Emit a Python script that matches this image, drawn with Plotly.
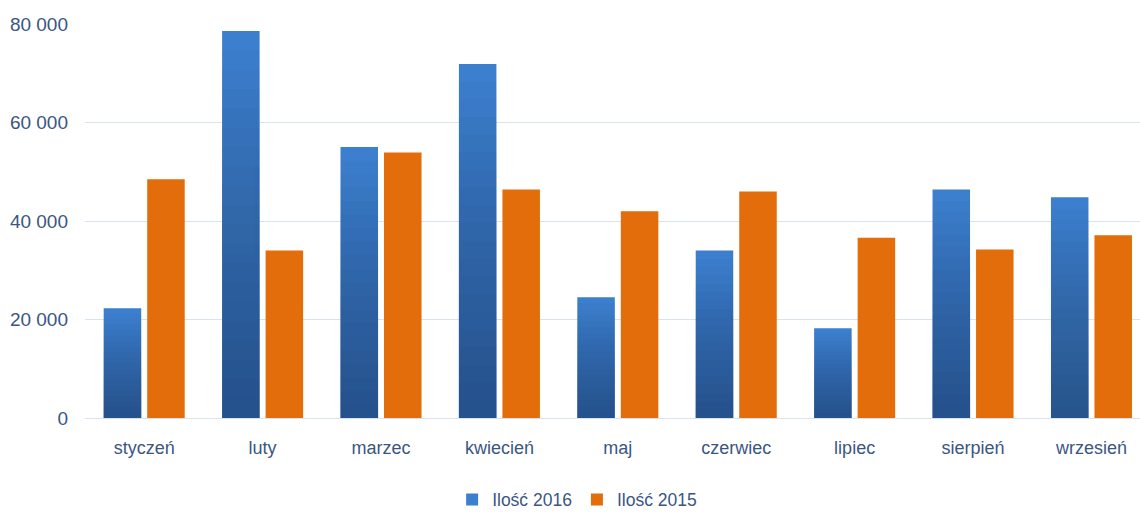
import plotly.graph_objects as go

months = ["styczeń", "luty", "marzec", "kwiecień", "maj", "czerwiec", "lipiec", "sierpień", "wrzesień"]
ilosc_2016 = [22300, 78600, 55050, 71900, 24500, 34000, 18200, 46400, 44800]
ilosc_2015 = [48500, 34000, 53900, 46400, 42000, 46000, 36600, 34200, 37100]

BLUE_TOP = "#3d7fcf"
DARK = "#1a3560"
ORANGE = "#e36c0b"
TEXT = "#3a5683"
GRID = "#d9e3f0"
FONT = "Liberation Sans"

fig = go.Figure()

fig.add_trace(go.Bar(
    x=months, y=ilosc_2016, name="Ilość 2016", offsetgroup="a",
    marker=dict(color=BLUE_TOP, line=dict(width=0)),
))
# stepped darkening overlays to imitate the vertical gradient of the blue bars
N = 20
for k in range(1, N):
    fig.add_trace(go.Bar(
        x=months, y=[v * k / N for v in ilosc_2016], offsetgroup="a",
        marker=dict(color=DARK, line=dict(width=0)), opacity=0.037,
        showlegend=False, hoverinfo="skip",
    ))

fig.add_trace(go.Bar(
    x=months, y=ilosc_2015, name="Ilość 2015", offsetgroup="b",
    marker=dict(color=ORANGE, line=dict(width=0)),
))

fig.update_layout(
    width=1140, height=513,
    margin=dict(l=85, r=0, t=24, b=95, autoexpand=False),
    paper_bgcolor="white", plot_bgcolor="white",
    barmode="group", bargap=0.265, bargroupgap=0.138,
    separators=", ",
    font=dict(family=FONT, color=TEXT, size=17),
    showlegend=True,
    legend=dict(
        orientation="h", xref="paper", x=0.348, xanchor="left",
        y=-0.207, yanchor="middle",
        font=dict(family=FONT, size=17.5, color=TEXT),
        itemwidth=30, traceorder="normal",
    ),
)

fig.update_xaxes(
    range=[-0.5, 8.41], showgrid=False, showline=False, zeroline=False,
    ticks="", tickfont=dict(family=FONT, size=18, color=TEXT),
    ticklabelstandoff=17, automargin=False,
)
fig.update_yaxes(
    range=[0, 80000], dtick=20000, tickformat=",d",
    showgrid=True, gridcolor=GRID, gridwidth=1.3,
    zeroline=True, zerolinecolor=GRID, zerolinewidth=1.3,
    showline=False, ticks="",
    tickfont=dict(family=FONT, size=19, color=TEXT),
    ticklabelstandoff=16, automargin=False,
)

fig.write_html(
    "out.html",
    config={"displayModeBar": False},
    post_script="document.body.style.margin='0';",
)
